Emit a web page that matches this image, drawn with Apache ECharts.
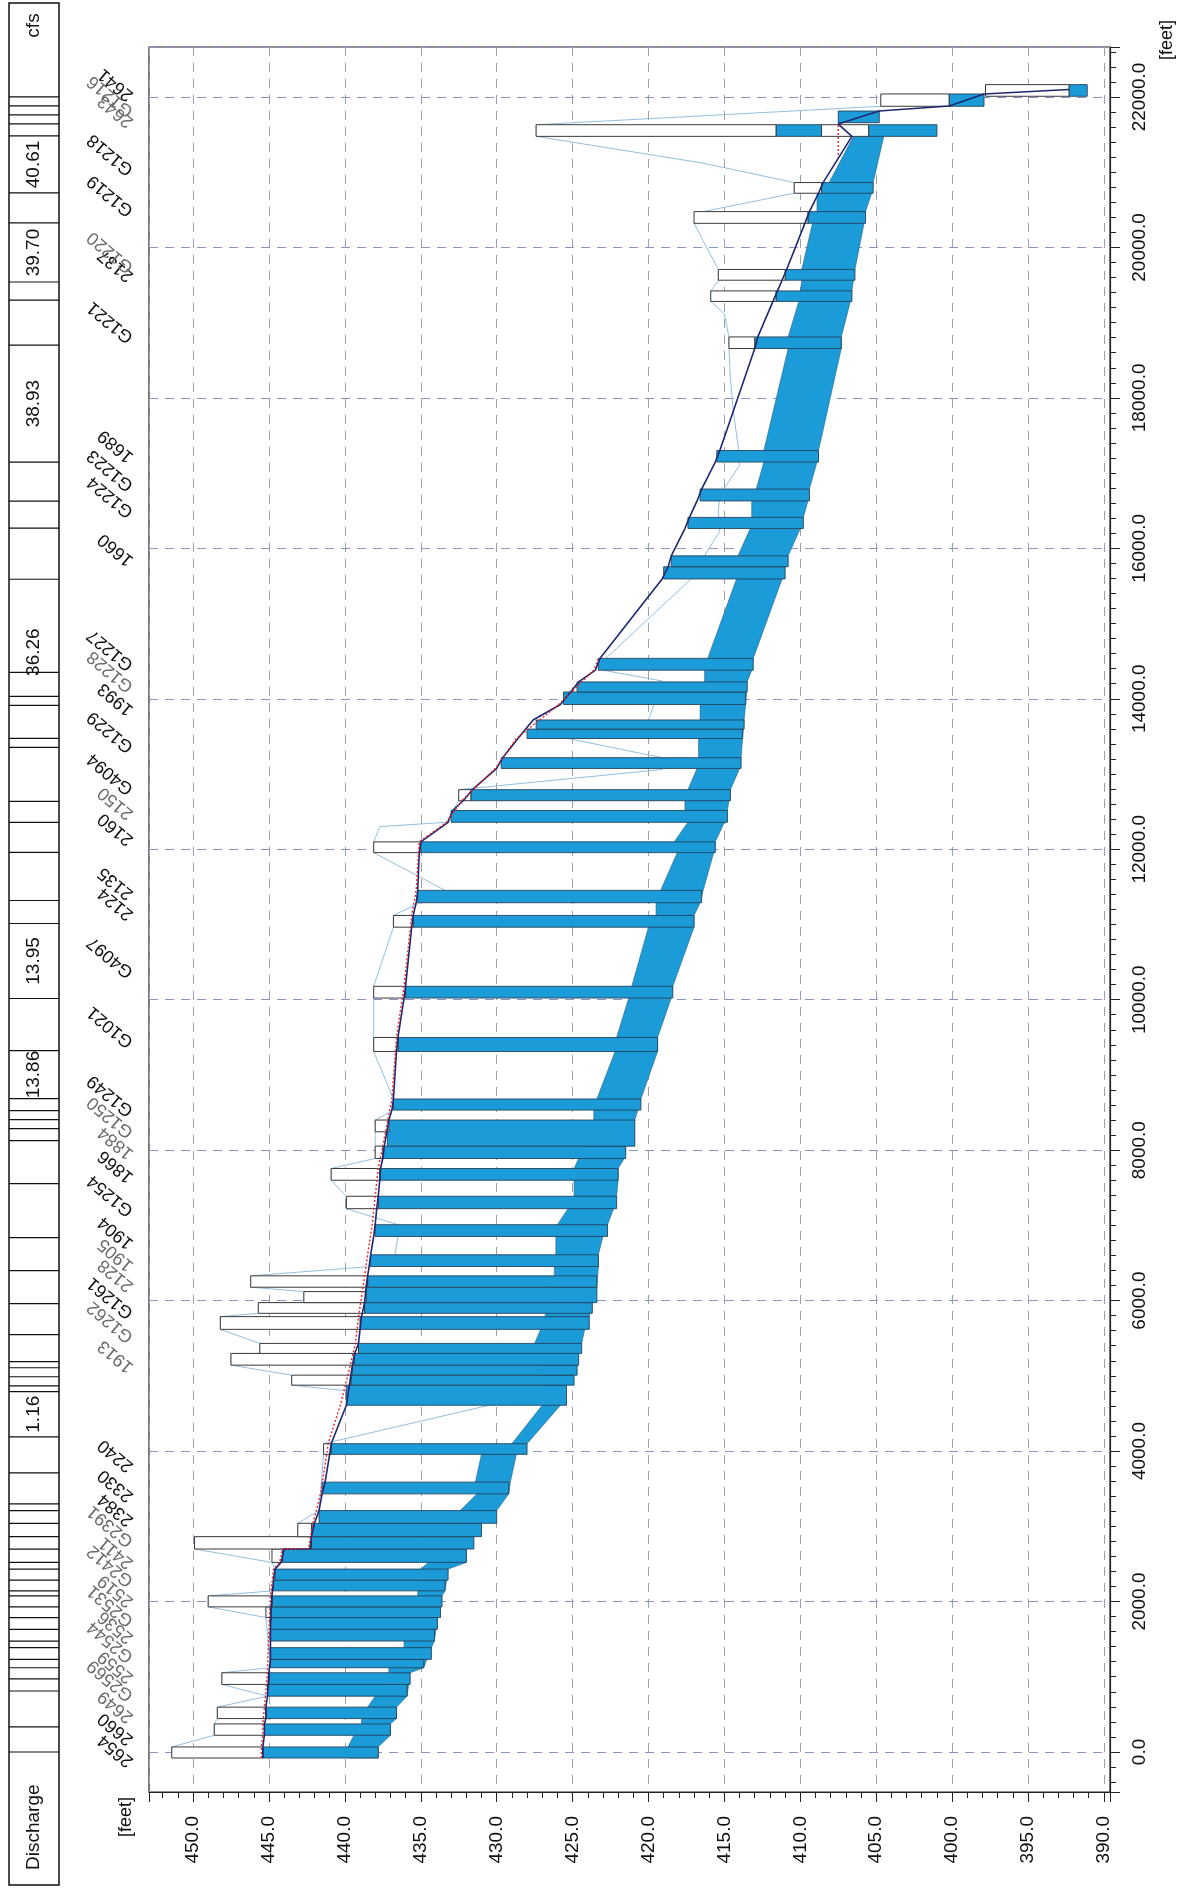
<!DOCTYPE html>
<html><head><meta charset="utf-8">
<script src="https://cdn.jsdelivr.net/npm/echarts/dist/echarts.min.js"></script>
<style>html,body{margin:0;padding:0;background:#fff}#c{width:1183px;height:1889px}</style>
</head><body><div id="c"></div>
<script>
// ---------- DATA ----------
// water-filled structure bands: [stationFrom, stationTo, waterSurfaceElev, bedElev]
const bands = [
[-80,67,445.4,437.8],[222,373,445.3,437.0],[444,596,445.2,436.6],[742,898,445.1,435.9],[898,1053,445.0,435.7],
[1120,1231,444.9,434.8],[1231,1387,444.9,434.3],[1475,1631,444.9,434.1],[1631,1787,444.9,433.9],[1787,1929,444.9,433.7],
[1929,2075,444.8,433.6],[2142,2284,444.7,433.4],[2284,2431,444.6,433.2],[2520,2698,444.1,432.0],[2698,2862,442.2,431.5],
[2862,3040,442.2,431.0],[3040,3209,441.7,430.0],[3431,3587,441.5,429.2],[3956,4098,440.9,428.0],[4609,4876,439.9,425.4],
[4876,5009,439.6,424.9],[5009,5142,439.5,424.7],[5142,5298,439.4,424.6],[5298,5431,439.1,424.4],[5618,5787,439.0,423.9],
[5831,5973,438.7,423.7],[5973,6178,438.6,423.4],[6178,6329,438.5,423.4],[6453,6609,438.3,423.3],[6853,7009,438.0,422.7],
[7222,7387,437.8,422.1],[7600,7756,437.7,422.0],[7889,8053,437.5,421.5],[8053,8400,437.2,420.9],[8533,8680,436.8,420.5],
[9311,9498,436.5,419.4],[10022,10178,436.0,418.4],[10964,11120,435.5,417.0],[11289,11453,435.2,416.5],[11955,12098,435.0,415.6],
[12358,12515,433.0,414.8],[12645,12792,431.7,414.6],[13074,13217,429.7,413.9],[13472,13597,428.0,413.8],[13597,13718,427.4,413.7],
[13924,14090,425.6,413.6],[14090,14224,424.7,413.5],[14380,14537,423.3,413.1],[15593,15755,419.0,411.0],[15755,15900,418.5,410.8],
[16263,16411,417.4,409.8],[16630,16788,416.6,409.4],[17147,17300,415.5,408.8],[18656,18810,413.0,407.3],[19282,19422,411.6,406.6],
[19564,19707,411.0,406.4],[20320,20476,409.5,405.7],[20720,20862,408.6,405.2],[21476,21631,411.6,408.6],[21476,21631,405.5,401.0],
[21658,21813,407.5,404.8],[21876,22040,400.2,397.9],[22009,22164,392.3,391.1]
];
// road decks / embankment boxes: [stationFrom, stationTo, topElev, bottomElev]
const decks = [
[-80,67,451.4,445.4],[222,373,448.6,445.3],[444,596,448.4,445.2],[898,1053,448.1,445.0],[1787,1929,445.2,444.9],
[1929,2075,449.0,444.8],[2520,2698,444.8,444.1],[2698,2862,449.9,442.2],[2862,3040,443.1,442.2],[3956,4098,441.4,440.9],
[4876,5009,443.5,439.6],[5142,5298,447.5,439.4],[5298,5431,445.6,439.1],[5618,5787,448.2,439.0],[5831,5973,445.7,438.7],
[5973,6120,442.7,438.6],[6178,6329,446.2,438.5],[7222,7387,439.9,437.8],[7600,7756,440.9,437.7],[7889,8053,438.0,437.5],
[8244,8400,438.0,437.1],[9311,9498,438.1,436.5],[10022,10178,438.1,436.0],[10964,11120,436.8,435.5],[11955,12098,438.1,435.0],
[12645,12792,432.5,431.7],[18656,18810,414.7,413.0],[19282,19422,415.9,411.6],[19564,19707,415.4,411.0],[20320,20476,417.0,409.5],
[20720,20862,410.4,408.6],[21476,21631,427.4,411.6],[21476,21631,408.6,405.5],[21876,22040,404.7,400.2],[22009,22164,397.8,392.3]
];
// channel: left edge of the low-flow channel and bed line
const innerLine = [
[-80,439.8],[67,439.8],[222,439.4],[373,438.9],[444,438.9],[596,438.5],[742,438.0],[1053,437.1],[1120,437.1],[1387,436.1],
[1475,436.1],[2075,435.2],[2142,435.2],[2431,435.0],[2520,434.5],[3209,432.4],[3431,431.3],[3587,431.4],[3956,431.0],[4098,429.0],
[4609,427.0],[5431,427.5],[5618,427.1],[5787,426.8],[5831,426.8],[6329,426.2],[6453,426.2],[6609,426.1],[6853,426.1],[7009,426.0],
[7222,425.3],[7387,424.9],[7600,424.9],[7756,424.9],[7889,424.6],[8400,423.6],[8533,423.6],[8680,423.4],[9311,422.2],[9498,422.1],
[10022,421.3],[10178,421.1],[10964,420.0],[11120,419.5],[11289,419.5],[11453,419.2],[11955,418.1],[12098,418.3],[12358,417.4],
[12515,417.6],[12645,417.6],[12792,417.4],[13074,416.8],[13217,416.7],[13472,416.7],[13718,416.6],[13924,416.6],[14224,416.3],
[14380,416.3],[14537,416.1],[15593,414.2],[15900,414.1],[16263,413.3],[16411,413.2],[16630,413.2],[16788,412.9],[17147,412.4],
[17300,412.4],[18656,410.8],[18810,410.8],[19282,410.1],[19422,410.0],[19564,409.9],[19707,409.9],[20320,409.2],[20476,408.9],
[20720,408.9],[20862,408.1],[21476,406.5]
];
const bedLine = [
[-80,437.8],[67,437.8],[222,437.0],[373,437.0],[444,436.6],[596,436.6],[742,435.9],[1053,435.7],[1120,434.8],[1231,434.6],
[1387,434.3],[1475,434.1],[1787,433.9],[1929,433.7],[2075,433.6],[2142,433.4],[2431,433.2],[2520,432.0],[2698,432.0],[2862,431.5],
[3040,431.0],[3209,430.0],[3431,429.2],[3587,429.1],[3956,428.7],[4098,428.0],[4609,425.8],[4876,425.4],[5009,424.9],[5142,424.7],
[5298,424.6],[5431,424.4],[5618,424.2],[5787,423.9],[5973,423.7],[6178,423.4],[6453,423.3],[6609,423.3],[6853,423.0],[7009,422.7],
[7222,422.3],[7387,422.1],[7600,422.0],[7756,422.0],[7889,421.6],[8053,421.5],[8400,420.9],[8533,420.7],[8680,420.5],[9311,419.4],
[9498,419.4],[10022,418.5],[10178,418.4],[10964,417.0],[11120,417.0],[11289,416.6],[11453,416.4],[11955,415.7],[12098,415.6],
[12358,415.0],[12515,414.8],[12645,414.7],[12792,414.6],[13074,414.0],[13217,413.9],[13472,413.8],[13718,413.7],[13924,413.6],
[14224,413.5],[14380,413.2],[14537,413.1],[15593,411.2],[15755,411.0],[15900,410.8],[16263,410.0],[16411,409.8],[16630,409.5],
[16788,409.4],[17147,408.9],[17300,408.8],[18656,407.3],[18810,407.3],[19282,406.7],[19422,406.6],[19564,406.5],[19707,406.4],
[20320,405.8],[20476,405.7],[20720,405.3],[20862,405.2],[21476,404.5]
];
// water surface profile
const wsLine = [
[-80,445.4],[67,445.4],[222,445.3],[373,445.3],[444,445.2],[596,445.2],[742,445.1],[898,445.05],[1053,445.0],[1231,444.9],
[1631,444.9],[1929,444.85],[2075,444.8],[2284,444.7],[2431,444.6],[2520,444.2],[2698,444.0],[2700,442.3],[2862,442.2],[3040,442.0],
[3209,441.7],[3431,441.5],[3587,441.3],[3956,441.0],[4098,440.9],[4609,439.9],[4876,439.7],[5009,439.6],[5142,439.5],[5298,439.35],
[5431,439.1],[5618,439.0],[5787,438.9],[5973,438.7],[6178,438.6],[6329,438.5],[6453,438.4],[6609,438.3],[6853,438.1],[7009,438.0],
[7222,437.9],[7387,437.8],[7600,437.7],[7756,437.65],[7889,437.5],[8053,437.4],[8400,437.1],[8533,436.9],[8680,436.8],[9311,436.6],
[9498,436.5],[10022,436.1],[10178,436.0],[10964,435.6],[11120,435.5],[11289,435.3],[11453,435.2],[11955,435.1],[12098,435.0],
[12358,433.2],[12515,432.9],[12645,432.2],[12792,431.6],[13074,430.0],[13217,429.6],[13472,428.6],[13718,427.6],[13924,425.8],
[14224,424.6],[14380,423.5],[14537,423.2],[15593,419.1],[15755,418.7],[15900,418.5],[16263,417.6],[16411,417.3],[16630,416.8],
[16788,416.5],[17147,415.6],[17300,415.3],[18656,413.0],[18810,412.8],[19282,411.8],[19422,411.5],[19564,411.2],[19707,410.9],
[20320,409.7],[20476,409.4],[20720,408.8],[20862,408.5],[21476,406.6],[21640,407.5],[21813,404.8],[21880,400.2],[22040,397.9],[22100,392.3]
];
// critical depth profile (red dotted)
const critLine = [
[-80,445.5],[67,445.5],[222,445.4],[373,445.4],[596,445.3],[1053,445.1],[1631,445.0],[2075,444.9],[2431,444.7],[2520,444.3],
[2698,444.1],[2700,442.4],[3040,442.1],[3431,441.6],[3956,441.2],[4098,441.1],[4609,440.3],[5009,439.8],[5431,439.3],[5787,439.1],
[6178,438.8],[6609,438.5],[7009,438.2],[7387,438.0],[7756,437.8],[8053,437.5],[8680,436.9],[9498,436.6],[10178,436.1],[11120,435.6],
[11453,435.3],[12098,435.1],[12358,433.3],[12645,432.3],[13074,430.1],[13472,428.7],[13924,425.9],[14380,423.6],[14537,423.3]
];
const critTop = [[21230,407.5],[21631,407.5]];
// left bank / road line (thin light blue)
const bankLine = [
[-80,451.4],[67,451.4],[222,448.6],[373,448.6],[444,448.4],[596,448.4],[742,445.1],[898,448.1],[1053,448.1],[1120,444.9],
[1787,445.2],[1929,449.0],[2075,449.0],[2142,444.7],[2431,444.6],[2520,444.8],[2698,449.9],[2862,449.9],[2862,443.1],[3040,443.1],
[3209,441.7],[3956,441.4],[4098,441.4],[4609,430.5],[4876,443.5],[5009,443.5],[5142,447.5],[5298,447.5],[5298,445.6],[5431,445.6],
[5618,448.2],[5787,448.2],[5831,445.7],[5973,445.7],[5973,442.7],[6120,442.7],[6178,446.2],[6329,446.2],[6453,438.3],[6609,436.7],
[6853,436.5],[7009,436.5],[7222,439.9],[7387,439.9],[7600,440.9],[7756,440.9],[7889,438.0],[8053,438.0],[8244,438.0],[8400,438.0],
[8533,436.8],[8680,436.8],[9311,438.1],[9498,438.1],[10022,438.1],[10178,438.1],[10964,436.8],[11120,436.8],[11453,433.4],[11955,438.1],
[12098,438.1],[12300,437.7],[12358,433.3],[12645,432.5],[12792,432.5],[13060,419.1],[13217,419.1],[13472,425.3],[13718,420.0],[14237,419.1],
[14380,423.0],[14537,422.8],[15593,417.2],[15746,416.8],[16228,415.3],[16490,415.4],[16709,415.3],[17103,414.0],[17365,414.1],[17803,414.4],
[18241,414.6],[18656,414.7],[18810,414.7],[19116,415.0],[19282,415.9],[19422,415.9],[19564,415.4],[19707,415.4],[20320,417.0],[20476,416.4],
[20720,410.4],[20862,410.4],[21120,416.4],[21476,427.4],[21631,427.4],[21876,404.7]
];
// structure names and the station they are written at
const structNames = [
['2654',-155],['2660',135],['2384',3048],['2330',3368],['2240',3768],['G1261',5804],['1904',6731],['G1254',7164],['1866',7611],
['G1249',8493],['G1021',9406],['G4097',10335],['2124',11103],['2135',11374],['2160',12095],['G4094',12769],['G1229',13329],
['1993',13824],['G1227',14418],['1660',15810],['G1224',16451],['G1223',16805],['1689',17188],['G1221',18774],['2137',19590],
['G1219',20455],['G1218',21000],['2641',21992]
];
// crowded (overprinted) structure names
const crowdedNames = [
['2649',431],['G2569',719],['2559',960],['G2544',1232],['2536',1488],['G2531',1712],['2519',1969],['G2412',2241],['2411',2481],
['G2391',2769],['1913',5087],['G1262',5486],['2128',6164],['1905',6437],['1884',7925],['G1250',8206],['2150',12442],['G1228',14131],
['G1220',19704],['2643',21640],['G1216',21780]
];
// discharge table: cell boundaries (stations) and values with the station of each value
const qBounds = [0,333,811,971,1120,1231,1387,1475,1631,1787,1929,2075,2142,2284,2431,2520,2698,2862,3040,3209,3299,3711,4190,4789,4868,
4988,5108,5188,5547,5959,6398,6837,7555,8127,8287,8406,8526,8686,9324,10016,11013,11319,11958,12357,12636,13355,13474,13913,14033,
14352,15589,16268,16627,17146,18702,19300,19540,20325,20724,21482,21641,21761,21881,22000];
const qTexts = [['Discharge',-1000],['1.16',4490],['13.86',9005],['13.95',10515],['36.26',14620],
['38.93',17924],['39.70',19932],['40.61',21103],['cfs',22950]];

// ---------- CHART ----------
const FONT = 'Liberation Sans, Arial, sans-serif';
const chart = echarts.init(document.getElementById('c'), null, {renderer:'canvas'});
const BLUE = '#1b9bd7';
function nameSeries(list, color){
  return {type:'custom', xAxisIndex:0, yAxisIndex:0, z:7, silent:true, clip:false, data:list.map(s=>[s[1]]), encode:{y:0},
    renderItem:(params, api)=>{
      const y = api.coord([420, api.value(0)])[1];
      return {type:'text', x:131, y:y, rotation:140*Math.PI/180,
        style:{text:list[params.dataIndex][0], font:'18px '+FONT, fill:color, align:'left', verticalAlign:'middle'}};
    }};
}
const option = {
  animation:false,
  backgroundColor:'#fff',
  grid:[
    {left:149, right:73, top:47, bottom:97, show:true, borderColor:'#222', borderWidth:1.2, containLabel:false, outerBoundsMode:'none'},
    {left:9, width:50, top:3, bottom:4, show:false, containLabel:false, outerBoundsMode:'none'}
  ],
  xAxis:[
    {type:'value', gridIndex:0, inverse:true, min:389.6, max:452.9, splitNumber:12, position:'bottom',
     axisLine:{show:true, onZero:false, lineStyle:{color:'#222', width:1.2}},
     axisTick:{show:true, length:10, lineStyle:{color:'#222'}},
     minorTick:{show:true, splitNumber:5, length:6, lineStyle:{color:'#222'}},
     splitLine:{show:true, lineStyle:{color:'#9aa1ad', type:[9,7], width:1}},
     axisLabel:{rotate:90, margin:24, fontSize:19, fontFamily:FONT, color:'#111', showMinLabel:false, showMaxLabel:false,
       formatter:v=>v.toFixed(1)}},
    {type:'value', gridIndex:1, min:0, max:1, show:false}
  ],
  yAxis:[
    {type:'value', gridIndex:0, min:-532, max:22664, splitNumber:12, position:'right',
     axisLine:{show:true, onZero:false, lineStyle:{color:'#222', width:1.2}},
     axisTick:{show:true, length:10, lineStyle:{color:'#222'}},
     minorTick:{show:true, splitNumber:10, length:6, lineStyle:{color:'#222'}},
     splitLine:{show:true, lineStyle:{color:'#8797c4', type:[9,7], width:1}},
     axisLabel:{rotate:90, margin:20, fontSize:19, fontFamily:FONT, color:'#111', showMinLabel:false, showMaxLabel:false,
       formatter:v=>v.toFixed(1)}},
    {type:'value', gridIndex:1, min:-1768, max:23249, show:false}
  ],
  graphic:[
    {type:'text', x:126, y:1817, rotation:Math.PI/2, style:{text:'[feet]', font:'18px '+FONT, fill:'#111', align:'center', verticalAlign:'middle'}},
    {type:'text', x:1167, y:40, rotation:Math.PI/2, style:{text:'[feet]', font:'18px '+FONT, fill:'#111', align:'center', verticalAlign:'middle'}}
  ],
  series:[
    {type:'custom', xAxisIndex:0, yAxisIndex:0, z:1, data:[[0]], silent:true,
     renderItem:(params, api)=>{
       const pts = innerLine.map(p=>api.coord([p[1],p[0]]));
       for (let i=bedLine.length-1;i>=0;i--) pts.push(api.coord([bedLine[i][1],bedLine[i][0]]));
       return {type:'polygon', shape:{points:pts}, style:{fill:BLUE, stroke:'#2a5f80', lineWidth:0.6}};
     }},
    {type:'line', xAxisIndex:0, yAxisIndex:0, z:2, symbol:'none', silent:true,
     data:bankLine.map(p=>[p[1],p[0]]), lineStyle:{color:'#86b8dd', width:0.9}},
    {type:'custom', xAxisIndex:0, yAxisIndex:0, z:3, silent:true, data:bands, encode:{x:[2,3], y:[0,1]},
     renderItem:(params, api)=>{
       const a = api.coord([api.value(2), api.value(1)]);
       const b = api.coord([api.value(3), api.value(0)]);
       return {type:'rect', shape:{x:a[0], y:a[1], width:b[0]-a[0], height:b[1]-a[1]}, style:{fill:BLUE, stroke:'#24445e', lineWidth:0.9}};
     }},
    {type:'custom', xAxisIndex:0, yAxisIndex:0, z:4, silent:true, data:decks, encode:{x:[2,3], y:[0,1]},
     renderItem:(params, api)=>{
       const a = api.coord([api.value(2), api.value(1)]);
       const b = api.coord([api.value(3), api.value(0)]);
       return {type:'rect', shape:{x:a[0], y:a[1], width:b[0]-a[0], height:b[1]-a[1]}, style:{fill:'#fff', stroke:'#3a3a3a', lineWidth:1}};
     }},
    {type:'line', xAxisIndex:0, yAxisIndex:0, z:5, symbol:'none', silent:true,
     data:wsLine.map(p=>[p[1],p[0]]), lineStyle:{color:'#1d2870', width:1.6}},
    {type:'line', xAxisIndex:0, yAxisIndex:0, z:6, symbol:'none', silent:true,
     data:critLine.map(p=>[p[1],p[0]]), lineStyle:{color:'#e8262a', width:1.4, type:[2,2]}},
    {type:'line', xAxisIndex:0, yAxisIndex:0, z:6, symbol:'none', silent:true,
     data:critTop.map(p=>[p[1],p[0]]), lineStyle:{color:'#e8262a', width:1.4, type:[2,2]}},
    nameSeries(structNames, '#111'),
    nameSeries(crowdedNames, '#6b6b6b'),
    {type:'custom', xAxisIndex:1, yAxisIndex:1, z:7, silent:true, clip:false, data:[[0]],
     renderItem:(params, api)=>{
       const a = api.coord([0, 23249]); const b = api.coord([1, -1768]);
       return {type:'rect', shape:{x:a[0], y:a[1], width:b[0]-a[0], height:b[1]-a[1]}, style:{fill:'#fff', stroke:'#111', lineWidth:1.5}};
     }},
    {type:'custom', xAxisIndex:1, yAxisIndex:1, z:8, silent:true, clip:false, data:qBounds.map(v=>[v]), encode:{y:0},
     renderItem:(params, api)=>{
       const a = api.coord([0, api.value(0)]); const b = api.coord([1, api.value(0)]);
       return {type:'line', shape:{x1:a[0], y1:a[1], x2:b[0], y2:b[1]}, style:{stroke:'#111', lineWidth:1.2}};
     }},
    {type:'custom', xAxisIndex:1, yAxisIndex:1, z:9, silent:true, clip:false, data:qTexts.map(c=>[c[1]]), encode:{y:0},
     renderItem:(params, api)=>{
       const a = api.coord([0.5, api.value(0)]);
       return {type:'text', x:a[0], y:a[1], rotation:Math.PI/2,
         style:{text:qTexts[params.dataIndex][0], font:'19px '+FONT, fill:'#111', align:'center', verticalAlign:'middle'}};
     }}
  ]
};
chart.setOption(option);
</script></body></html>
